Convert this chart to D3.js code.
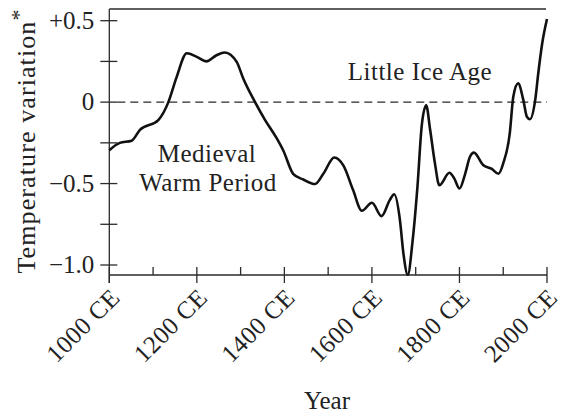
<!DOCTYPE html>
<html>
<head>
<meta charset="utf-8">
<script src="https://cdn.jsdelivr.net/npm/d3@7"></script>
<style>
  html, body { margin: 0; padding: 0; background: #fff; }
  svg { display: block; }
  text { font-family: "Liberation Serif", "Times New Roman", serif; fill: #222; }
</style>
</head>
<body>
<div id="chart"></div>
<script>
(() => {
  // ------- data -------
  const years = [1000, 1024, 1051, 1070, 1112, 1135, 1154, 1177, 1200, 1222, 1245, 1264, 1291, 1306,
    1333, 1356, 1382, 1398, 1420, 1443, 1470, 1489, 1514, 1535, 1557, 1577, 1600, 1622, 1641, 1651,
    1664, 1672, 1682, 1693, 1704, 1714, 1724, 1733, 1744, 1754, 1777, 1788, 1800, 1813, 1824, 1833,
    1854, 1874, 1889, 1900, 1915, 1923, 1934, 1946, 1954, 1961, 1973, 1980, 1989, 2000];
  const temps = [-0.295, -0.25, -0.237, -0.17, -0.11, 0.0, 0.155, 0.30, 0.278, 0.25, 0.288, 0.305, 0.247, 0.145,
    0.0, -0.11, -0.22, -0.30, -0.44, -0.475, -0.503, -0.44, -0.34, -0.39, -0.54, -0.667, -0.618, -0.70, -0.60, -0.566,
    -0.724, -0.93, -1.06, -0.85, -0.52, -0.14, -0.02, -0.17, -0.376, -0.51, -0.434, -0.468, -0.53, -0.44, -0.335, -0.31,
    -0.386, -0.41, -0.44, -0.376, -0.19, 0.033, 0.115, 0.012, -0.09, -0.105, 0.012, 0.176, 0.36, 0.51];

  const yTicks = [0.5, 0.25, 0, -0.25, -0.5, -0.75, -1.0];
  const yTickLabels = ["+0.5", "", "0", "", "\u22120.5", "", "\u22121.0"];
  const xTicks = [1000, 1100, 1200, 1300, 1400, 1500, 1600, 1700, 1800, 1900, 2000];
  const xMajor = [1000, 1200, 1400, 1600, 1800, 2000];
  const xTickLabels = ["1000 CE", "1200 CE", "1400 CE", "1600 CE", "1800 CE", "2000 CE"];

  const W = 565, H = 415;
  const top = 9, bottom = 275;
  const ink = "#2a2a2a";
  const fontSize = 25;

  const svg = d3.select("#chart").append("svg").attr("width", W).attr("height", H);

  const x = d3.scaleLinear().domain([1000, 2000]).range([109.3, 547]);
  const y = d3.scaleLinear().domain([-1, 0.5]).range([265, 20.7]);

  // frame: top rule, left and bottom axes
  svg.append("line").attr("x1", x(1000)).attr("x2", x(2000) - 1).attr("y1", top).attr("y2", top)
    .attr("stroke", ink).attr("stroke-width", 1.3);
  svg.append("line").attr("x1", x(1000)).attr("x2", x(1000)).attr("y1", top).attr("y2", bottom + 8)
    .attr("stroke", ink).attr("stroke-width", 1.3);
  svg.append("line").attr("x1", x(1000)).attr("x2", x(2000)).attr("y1", bottom).attr("y2", bottom)
    .attr("stroke", ink).attr("stroke-width", 1.3);

  // zero line
  svg.append("line").attr("x1", x(1000) + 8).attr("x2", x(2000)).attr("y1", y(0)).attr("y2", y(0))
    .attr("stroke", ink).attr("stroke-width", 1.2).attr("stroke-dasharray", "8,5");

  // y ticks
  svg.selectAll("line.yt").data(yTicks).enter().append("line")
    .attr("class", "yt")
    .attr("x1", x(1000) - 9).attr("x2", x(1000) + 8)
    .attr("y1", d => y(d)).attr("y2", d => y(d))
    .attr("stroke", ink).attr("stroke-width", 1.3);

  svg.selectAll("text.yl").data(yTicks).enter().append("text")
    .attr("class", "yl")
    .attr("x", x(1000) - 15)
    .attr("y", d => y(d))
    .attr("dy", "0.33em")
    .attr("text-anchor", "end")
    .style("font-size", fontSize + "px")
    .text((d, i) => yTickLabels[i]);

  // x ticks
  svg.selectAll("line.xt").data(xTicks).enter().append("line")
    .attr("class", "xt")
    .attr("x1", d => x(d)).attr("x2", d => x(d))
    .attr("y1", bottom - 8)
    .attr("y2", d => xMajor.includes(d) ? bottom + 8 : bottom)
    .attr("stroke", ink).attr("stroke-width", 1.3);

  svg.selectAll("text.xl").data(xMajor).enter().append("text")
    .attr("class", "xl")
    .attr("text-anchor", "end")
    .attr("transform", d => `translate(${x(d) + 12},${bottom + 24}) rotate(-45)`)
    .style("font-size", fontSize + "px")
    .style("letter-spacing", "0.5px")
    .text((d, i) => xTickLabels[i]);

  // axis titles
  svg.append("text")
    .attr("x", 327).attr("y", 409)
    .attr("text-anchor", "middle")
    .style("font-size", fontSize + "px")
    .text("Year");

  const yt = svg.append("text")
    .attr("transform", "translate(35,141) rotate(-90)")
    .attr("text-anchor", "middle")
    .style("font-size", "26px")
    .style("letter-spacing", "1.1px");
  yt.append("tspan").text("Temperature variation");
  yt.append("tspan").attr("dy", "-0.4em").style("font-size", "22px").text("*");

  // annotations
  svg.append("text").attr("x", 207).attr("y", 162).attr("text-anchor", "middle")
    .style("font-size", fontSize + "px").style("letter-spacing", "0.5px").text("Medieval");
  svg.append("text").attr("x", 208).attr("y", 191).attr("text-anchor", "middle")
    .style("font-size", fontSize + "px").style("letter-spacing", "0.5px").text("Warm Period");
  svg.append("text").attr("x", 420).attr("y", 80).attr("text-anchor", "middle")
    .style("font-size", fontSize + "px").style("letter-spacing", "0.5px").text("Little Ice Age");

  // temperature curve
  const pts = years.map((yr, i) => ({ year: yr, t: temps[i] }));
  const line = d3.line()
    .x(d => x(d.year))
    .y(d => y(d.t))
    .curve(d3.curveMonotoneX);

  svg.append("path")
    .datum(pts)
    .attr("fill", "none")
    .attr("stroke", "#111")
    .attr("stroke-width", 2.6)
    .attr("stroke-linejoin", "round")
    .attr("d", line);
})();
</script>
</body>
</html>
